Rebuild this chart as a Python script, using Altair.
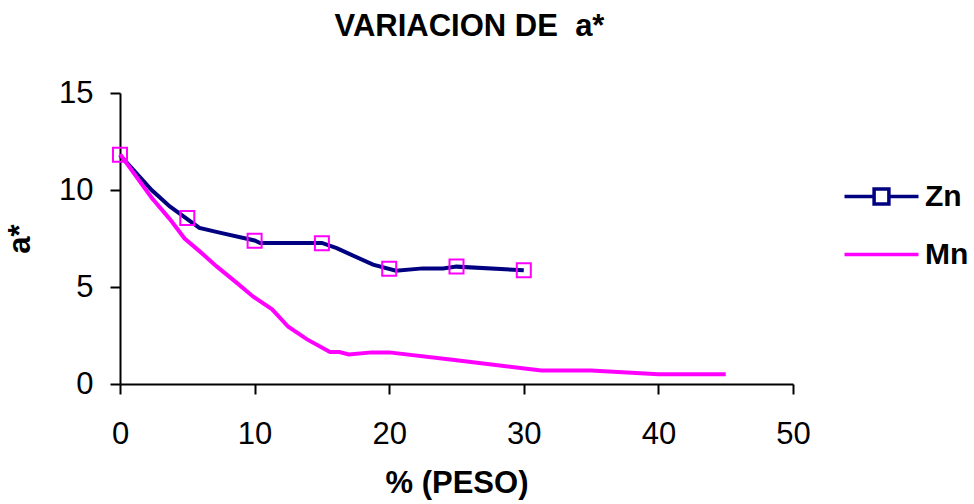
import altair as alt
import pandas as pd

# Zn series (line trace) and its marker points
zn_x = [0, 2.35, 3.7, 5, 5.9, 7.4, 10, 10.4, 15, 16.1, 18.8, 20.5, 22.5, 24, 25, 30]
zn_y = [11.8, 10.0, 9.15, 8.5, 8.05, 7.8, 7.4, 7.27, 7.27, 7.0, 6.15, 5.84, 5.96, 5.96, 6.05, 5.86]
zn_mark_x = [0, 5, 10, 15, 20, 25, 30]
zn_mark_y = [11.82, 8.56, 7.39, 7.25, 5.94, 6.06, 5.86]

# Mn series
mn_x = [0, 2.35, 3.7, 4.8, 5.9, 7.2, 8.7, 9.9, 11.3, 12.5, 13.9, 15.6, 16.3, 17.0, 18.7, 20.0, 25, 31.3, 35, 40, 45]
mn_y = [11.85, 9.6, 8.5, 7.5, 6.85, 6.05, 5.2, 4.5, 3.85, 2.95, 2.3, 1.65, 1.65, 1.52, 1.63, 1.63, 1.22, 0.7, 0.7, 0.5, 0.5]

series = ["Zn", "Mn"]
colors = ["#000080", "#FF00FF"]
x_ticks = [0, 10, 20, 30, 40, 50]
y_ticks = [0, 5, 10, 15]

FONT = "Liberation Sans"

lines = pd.concat([
    pd.DataFrame({"x": zn_x, "y": zn_y, "serie": "Zn", "o": range(len(zn_x))}),
    pd.DataFrame({"x": mn_x, "y": mn_y, "serie": "Mn", "o": range(len(mn_x))}),
])
marks = pd.DataFrame({"x": zn_mark_x, "y": zn_mark_y})

zn_path = "M-2,0H-0.4M0.4,0H2M-0.4,-0.4H0.4V0.4H-0.4Z"
mn_path = "M-2,0H2"

xs = alt.Scale(domain=[0, 50], nice=False)
ys = alt.Scale(domain=[0, 15], nice=False)

xaxis = alt.Axis(values=x_ticks, title="% (PESO)", grid=False, tickSize=10,
                 labelFlush=False, labelPadding=25, titlePadding=19)
yaxis = alt.Axis(values=y_ticks, title="a*", grid=False, tickSize=10,
                 labelFlush=False, labelPadding=17, titlePadding=22)

leg = alt.Legend(title=None, orient="none", legendX=741, legendY=83)
cscale = alt.Scale(domain=series, range=colors)

line_layer = alt.Chart(lines).mark_line(strokeWidth=4, interpolate="linear").encode(
    x=alt.X("x:Q", scale=xs, axis=xaxis),
    y=alt.Y("y:Q", scale=ys, axis=yaxis),
    color=alt.Color("serie:N", scale=cscale, legend=leg),
    order="o:Q",
)

legend_layer = alt.Chart(lines).transform_filter("false").mark_point(filled=False, opacity=1).encode(
    x=alt.X("x:Q", scale=xs),
    y=alt.Y("y:Q", scale=ys),
    color=alt.Color("serie:N", scale=cscale, legend=leg),
    shape=alt.Shape("serie:N", scale=alt.Scale(domain=series, range=[zn_path, mn_path]), legend=leg),
)

point_layer = alt.Chart(marks).mark_point(shape="square", size=196, filled=False,
                                          color="#FF00FF", strokeWidth=2, opacity=1).encode(
    x=alt.X("x:Q", scale=xs),
    y=alt.Y("y:Q", scale=ys),
)

chart = alt.layer(line_layer, legend_layer, point_layer).properties(
    width=673, height=291,
    background="white",
    title=alt.TitleParams("VARIACION DE\u00a0 a*", font=FONT, fontSize=31, fontWeight="bold",
                          color="black", anchor="middle", frame="group", dx=13, offset=34),
    autosize=alt.AutoSizeParams(type="none"),
    padding={"left": 120, "top": 93, "right": 181, "bottom": 120},
).configure_axis(
    domainColor="black", domainWidth=2, tickColor="black", tickWidth=2,
    labelFont=FONT, labelFontSize=31, labelColor="black",
    titleFont=FONT, titleFontSize=31, titleFontWeight="bold", titleColor="black",
).configure_legend(
    symbolSize=1369, symbolStrokeWidth=3.5, symbolFillColor="transparent",
    labelFont=FONT, labelFontSize=30, labelFontWeight="bold",
    labelColor="black", labelOffset=23, rowPadding=22, padding=0,
).configure_view(stroke=None)

chart.save("out.html", embed_options={"renderer": "svg", "actions": False})
